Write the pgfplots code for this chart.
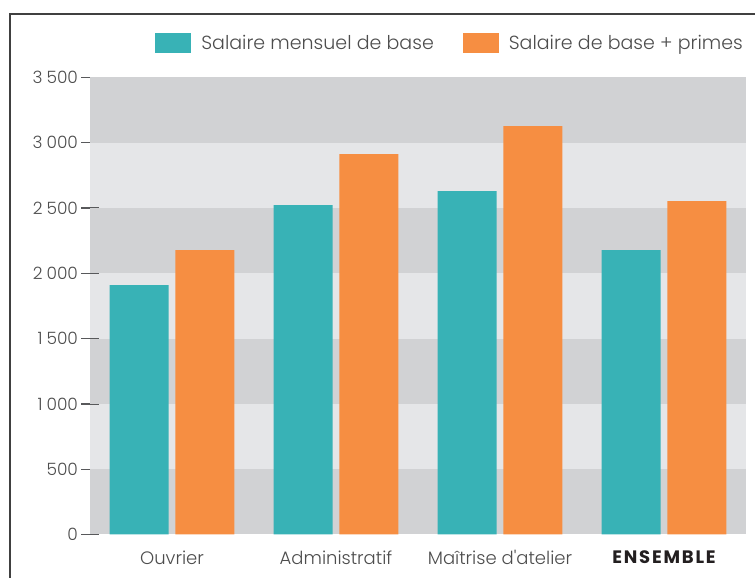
\documentclass[border=0pt]{standalone}
\usepackage{fontspec}
\setmainfont{Poppins}[UprightFont={* Light},BoldFont={* Bold}]
\newfontfamily\plainfont{Poppins}[UprightFont={* Light}]
\usepackage{pgfplots}
\pgfplotsset{compat=1.18}

\definecolor{tealbar}{HTML}{38B2B6}
\definecolor{orangebar}{HTML}{F68E42}
\definecolor{banddark}{HTML}{D1D2D4}
\definecolor{bandlight}{HTML}{E5E6E8}
\definecolor{txt}{HTML}{4D4D4D}
\definecolor{txtdark}{HTML}{231F20}
\definecolor{tickc}{HTML}{58595B}
\definecolor{framec}{HTML}{404040}

\begin{document}
\begin{tikzpicture}
\begin{axis}[
    at={(90pt,43.5pt)}, anchor=south west,
    scale only axis, width=656pt, height=457pt,
    xmin=-0.5, xmax=3.5, ymin=0, ymax=3500,
    ybar, bar width=0.36,
    axis line style={draw=none},
    axis background/.style={fill=bandlight},
    xtick={0,1,2,3},
    xticklabels={Ouvrier, Administratif, Maîtrise d{\plainfont '}atelier,
        {\color{txtdark}\bfseries\fontsize{18}{20}\selectfont\addfontfeature{LetterSpace=10}ENSEMBLE}},
    ytick={0,500,...,3500},
    ytick pos=left,
    tick align=center, major tick length=17pt,
    xtick style={draw=none},
    ytick style={draw=tickc, line width=1.2pt},
    /pgf/number format/assume math mode=true,
    /pgf/number format/1000 sep={\hspace{4pt}},
    ticklabel style={text=txt},
    yticklabel style={font=\fontsize{17}{20}\selectfont},
    xticklabel style={font=\fontsize{18}{21}\selectfont, yshift=-4pt},
    legend columns=2,
    legend image code/.code={\fill[#1] (0pt,-10pt) rectangle (36pt,10pt);},
    legend style={at={(1,1)}, anchor=east, xshift=-3pt, yshift=34pt,
        draw=none, fill=none, inner sep=0pt,
        font=\fontsize{19}{22}\selectfont, text=txt,
        nodes={inner sep=0pt},
        /tikz/every odd column/.append style={column sep=10pt},
        /tikz/every even column/.append style={column sep=29pt}},
]
% darker bands
\fill[banddark] (axis cs:-0.5,0) rectangle (axis cs:3.5,500);
\fill[banddark] (axis cs:-0.5,1000) rectangle (axis cs:3.5,1500);
\fill[banddark] (axis cs:-0.5,2000) rectangle (axis cs:3.5,2500);
\fill[banddark] (axis cs:-0.5,3000) rectangle (axis cs:3.5,3500);

\addplot[fill=tealbar, draw=none, bar shift=-0.2]
    coordinates {(0,1910) (1,2523) (2,2630) (3,2178)};
\addplot[fill=orangebar, draw=none, bar shift=0.2]
    coordinates {(0,2178) (1,2913) (2,3128) (3,2554)};
\legend{Salaire mensuel de base, Salaire de base + primes}
\end{axis}
\draw[framec, line width=1.3pt] (10pt,-5pt) -- (10pt,564pt) -- (760pt,564pt);
\pgfresetboundingbox
\useasboundingbox (0,0) rectangle (755pt,578pt);
\end{tikzpicture}
\end{document}
